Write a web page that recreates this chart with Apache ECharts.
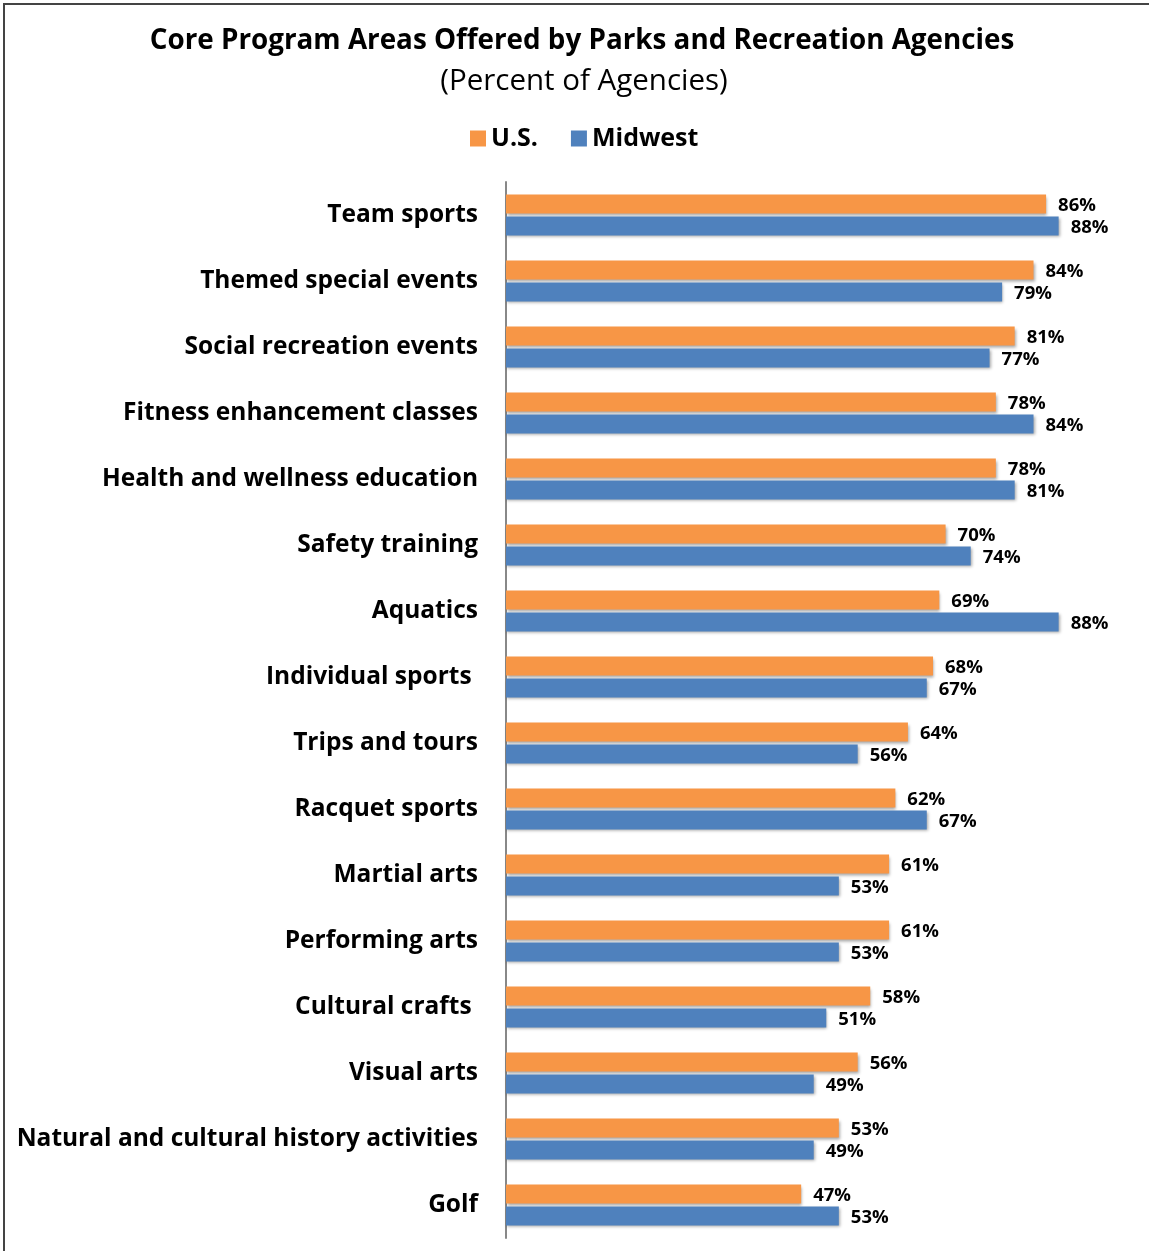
<!DOCTYPE html>
<html>
<head>
<meta charset="utf-8">
<script src="https://cdn.jsdelivr.net/npm/echarts@6/dist/echarts.min.js"></script>
<style>
  html, body { margin: 0; padding: 0; background: #fff; }
  #chart { width: 1149px; height: 1251px; }
</style>
</head>
<body>
<div id="chart"></div>
<script>
// Catégories, de haut en bas
const categories = [
  'Team sports', 'Themed special events', 'Social recreation events',
  'Fitness enhancement classes', 'Health and wellness education',
  'Safety training', 'Aquatics', 'Individual sports ', 'Trips and tours',
  'Racquet sports', 'Martial arts', 'Performing arts', 'Cultural crafts ',
  'Visual arts', 'Natural and cultural history activities', 'Golf'
];
const usValues = [86, 84, 81, 78, 78, 70, 69, 68, 64, 62, 61, 61, 58, 56, 53, 47];
const midwestValues = [88, 79, 77, 84, 81, 74, 88, 67, 56, 67, 53, 53, 51, 49, 49, 53];

const FONT = '"Open Sans"';
const chart = echarts.init(document.getElementById('chart'));

const barShadow = {
  shadowColor: 'rgba(0,0,0,0.35)',
  shadowBlur: 3,
  shadowOffsetX: 1,
  shadowOffsetY: 2
};

const labelStyle = {
  show: true,
  position: 'right',
  distance: 12,
  offset: [0, 2],
  formatter: '{c}%',
  color: '#000',
  fontFamily: FONT,
  fontWeight: 'bold',
  fontSize: 18.5
};

chart.setOption({
  backgroundColor: '#fff',
  animation: false,
  title: [
    {
      text: 'Core Program Areas Offered by Parks and Recreation Agencies',
      left: 577, top: 22, textAlign: 'center',
      textStyle: { fontFamily: FONT, fontWeight: 'bold', fontSize: 27.8, color: '#000' }
    },
    {
      text: '(Percent of Agencies)',
      left: 579, top: 62, textAlign: 'center',
      textStyle: { fontFamily: FONT, fontWeight: 'normal', fontSize: 29.5, color: '#000' }
    }
  ],
  legend: {
    left: 465, top: 121,
    icon: 'rect', itemWidth: 16, itemHeight: 16, itemGap: 33,
    textStyle: { fontFamily: FONT, fontWeight: 'bold', fontSize: 25, color: '#000' },
    data: ['U.S.', 'Midwest']
  },
  grid: { left: 506, right: 15, top: 182, bottom: 13, containLabel: false },
  xAxis: { type: 'value', min: 0, max: 100, show: false },
  yAxis: {
    type: 'category',
    inverse: true,
    data: categories,
    axisLine: { show: true, lineStyle: { color: '#888', width: 2 } },
    axisTick: { show: false },
    axisLabel: {
      margin: 28, color: '#000',
      fontFamily: FONT, fontWeight: 'bold', fontSize: 24.5
    }
  },
  series: [
    {
      name: 'U.S.', type: 'bar', data: usValues,
      barWidth: 19, barGap: '15%',
      itemStyle: Object.assign({ color: '#F79646' }, barShadow),
      label: labelStyle
    },
    {
      name: 'Midwest', type: 'bar', data: midwestValues,
      barWidth: 19, barGap: '15%',
      itemStyle: Object.assign({ color: '#4F81BD' }, barShadow),
      label: labelStyle
    }
  ],
  graphic: [
    {
      type: 'rect', silent: true,
      shape: { x: 4, y: 4, width: 1300, height: 1400 },
      style: { fill: 'none', stroke: '#444', lineWidth: 2 }
    }
  ]
});
</script>
</body>
</html>
